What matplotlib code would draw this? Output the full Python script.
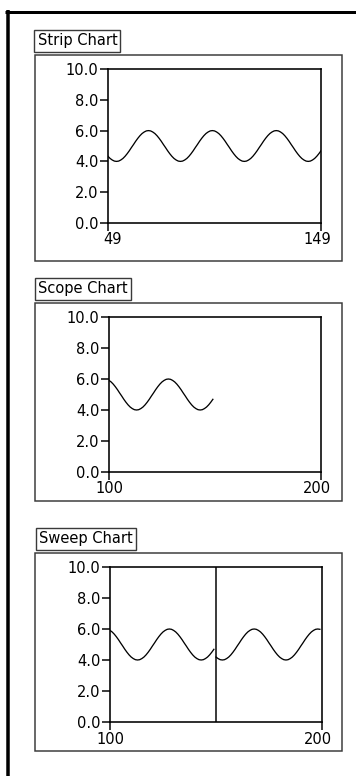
import matplotlib
matplotlib.use("Agg")
import matplotlib.pyplot as plt
from matplotlib.lines import Line2D
from matplotlib.patches import Rectangle
import numpy as np

# ---- data: one sampled signal, indices 49..149 ----
sample_start = 49
signal = [
    4.33, 4.19, 4.09, 4.02, 4.00, 4.02, 4.09, 4.19, 4.33, 4.50,   # 49-58
    4.69, 4.90, 5.10, 5.31, 5.50, 5.67, 5.81, 5.91, 5.98, 6.00,   # 59-68
    5.98, 5.91, 5.81, 5.67, 5.50, 5.31, 5.10, 4.90, 4.69, 4.50,   # 69-78
    4.33, 4.19, 4.09, 4.02, 4.00, 4.02, 4.09, 4.19, 4.33, 4.50,   # 79-88
    4.69, 4.90, 5.10, 5.31, 5.50, 5.67, 5.81, 5.91, 5.98, 6.00,   # 89-98
    5.98, 5.91, 5.81, 5.67, 5.50, 5.31, 5.10, 4.90, 4.69, 4.50,   # 99-108
    4.33, 4.19, 4.09, 4.02, 4.00, 4.02, 4.09, 4.19, 4.33, 4.50,   # 109-118
    4.69, 4.90, 5.10, 5.31, 5.50, 5.67, 5.81, 5.91, 5.98, 6.00,   # 119-128
    5.98, 5.91, 5.81, 5.67, 5.50, 5.31, 5.10, 4.90, 4.69, 4.50,   # 129-138
    4.33, 4.19, 4.09, 4.02, 4.00, 4.02, 4.09, 4.19, 4.33, 4.50,   # 139-148
    4.69,                                                          # 149
]
titles = ["Strip Chart", "Scope Chart", "Sweep Chart"]
x_ranges = [(49, 149), (100, 200), (100, 200)]
y_ticks = [0, 2, 4, 6, 8, 10]
sweep_cursor = 150

idx = np.arange(sample_start, sample_start + len(signal))
vals = np.array(signal)

W, H = 356, 776
fig = plt.figure(figsize=(W / 100, H / 100), dpi=100)
PT = 0.72  # points per pixel at dpi 100


def fx(px):
    return px / W


def fy(py):
    return 1 - py / H


def px_rect(left, top, right, bottom):
    return [fx(left), fy(bottom), (right - left) / W, (bottom - top) / H]


# outer window frame (top + left edge only)
fig.add_artist(Line2D([fx(5), 1], [fy(11.5)] * 2, color="black", lw=3 * PT,
                      solid_capstyle="butt"))
fig.add_artist(Line2D([fx(7.5)] * 2, [fy(10), 0], color="black", lw=3.5 * PT,
                      solid_capstyle="butt"))

# layout per panel: label (left, center y), outer box, plot area  (pixels)
layout = [
    ((37.5, 41), (35, 55, 342, 261), (108, 69, 321, 223)),
    ((38, 289), (35, 303, 342, 501), (109, 317, 321, 472)),
    ((39, 539), (35, 553, 342, 751), (110, 567, 322, 722)),
]

axes = []
for title, xr, (lab, outer, plot) in zip(titles, x_ranges, layout):
    l, t, r, b = outer
    fig.add_artist(Rectangle((fx(l), fy(b)), (r - l) / W, (b - t) / H,
                             transform=fig.transFigure, fill=False,
                             ec="#3a3a3a", lw=1.5 * PT))
    fig.text(fx(lab[0]), fy(lab[1]), title, fontsize=10.5, ha="left", va="center",
             bbox=dict(boxstyle="square,pad=0.22", fc="white", ec="#3a3a3a",
                       lw=1.4 * PT))

    ax = fig.add_axes(px_rect(*plot))
    ax.set_xlim(*xr)
    ax.set_ylim(y_ticks[0], y_ticks[-1])
    for s in ax.spines.values():
        s.set_linewidth(1.6 * PT)
    ax.set_yticks(y_ticks)
    ax.set_yticklabels([f"{v:.1f}" for v in y_ticks])
    ax.tick_params(axis="y", direction="out", length=8 * PT, width=1.5 * PT,
                   pad=1, labelsize=10.5)
    ax.set_xticks(list(xr))
    ax.set_xticklabels(["", ""])
    ax.tick_params(axis="x", direction="out", length=8 * PT, width=1.5 * PT)
    # end labels sit a little right of their ticks, like the original
    ax.annotate(str(xr[0]), xy=(xr[0], 0), xycoords=("data", "axes fraction"),
                xytext=(14 * PT, -17 * PT), textcoords="offset points",
                ha="right", va="center", fontsize=10.5)
    ax.annotate(str(xr[1]), xy=(xr[1], 0), xycoords=("data", "axes fraction"),
                xytext=(10 * PT, -17 * PT), textcoords="offset points",
                ha="right", va="center", fontsize=10.5)
    axes.append(ax)

lw_curve = 1.3 * PT

# strip: whole history scrolls
axes[0].plot(idx, vals, color="black", lw=lw_curve)

# scope: current sweep only
cur = idx >= x_ranges[1][0]
axes[1].plot(idx[cur], vals[cur], color="black", lw=lw_curve)

# sweep: current sweep on the left, previous sweep kept on the right
old = (idx >= sample_start + 1) & (idx < x_ranges[2][0])
axes[2].plot(idx[cur], vals[cur], color="black", lw=lw_curve)
axes[2].plot(idx[old] + (x_ranges[2][1] - x_ranges[2][0]), vals[old],
             color="black", lw=lw_curve)
axes[2].axvline(sweep_cursor, color="black", lw=1.5 * PT)

fig.savefig("out.png", dpi=100)
